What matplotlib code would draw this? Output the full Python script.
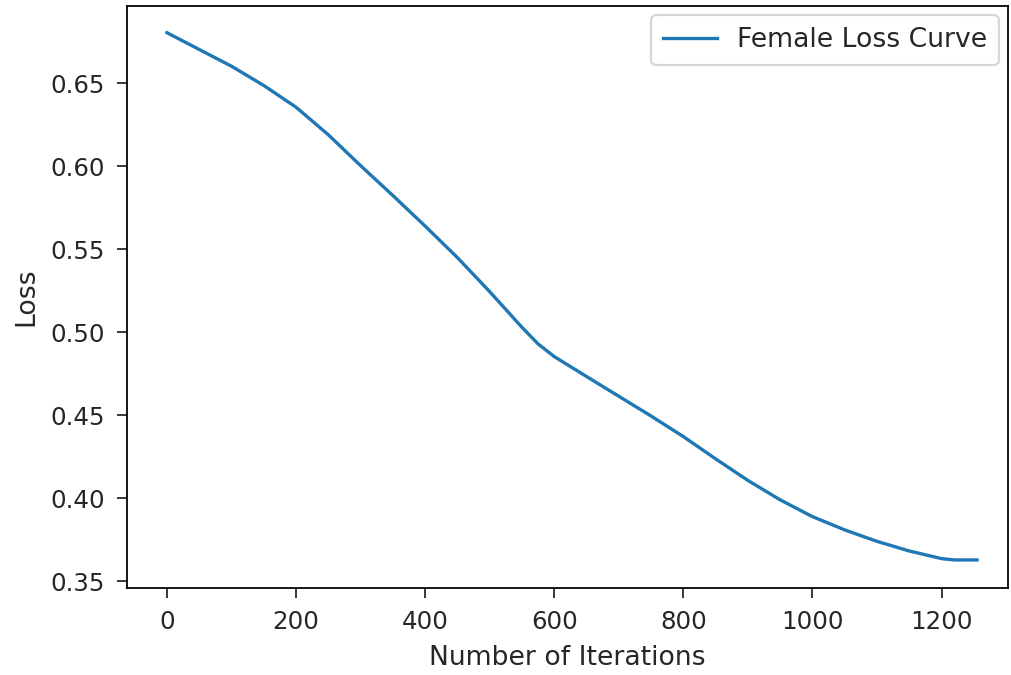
import numpy as np
import matplotlib
matplotlib.use("Agg")
import matplotlib.pyplot as plt

# loss values
iterations = [0, 50, 100, 150, 200, 250, 300, 350, 400, 450, 500, 550, 575, 600,
              650, 700, 750, 800, 850, 900, 950, 1000, 1050, 1100, 1150, 1200, 1220, 1255]
loss = [0.6803, 0.6702, 0.6601, 0.6485, 0.6354, 0.6188, 0.6002, 0.5822, 0.5638, 0.5448,
        0.5243, 0.5028, 0.4928, 0.4852, 0.4732, 0.4613, 0.4494, 0.4370, 0.4236, 0.4106,
        0.3989, 0.3888, 0.3808, 0.3739, 0.3681, 0.3635, 0.3627, 0.3627]

plt.rcParams["font.family"] = ["DejaVu Sans"]
plt.rcParams["font.size"] = 12
plt.rcParams["xtick.labelsize"] = 11
plt.rcParams["ytick.labelsize"] = 11
plt.rcParams["xtick.major.size"] = 4.5
plt.rcParams["ytick.major.size"] = 4.5
plt.rcParams["xtick.major.pad"] = 5.5
plt.rcParams["ytick.major.pad"] = 5.5
plt.rcParams["axes.labelpad"] = 5
plt.rcParams["text.color"] = "#262626"
plt.rcParams["axes.labelcolor"] = "#262626"
plt.rcParams["xtick.color"] = "#262626"
plt.rcParams["ytick.color"] = "#262626"

fig = plt.figure(figsize=(1011 / 160, 675 / 160), dpi=160)
ax = fig.add_axes([127 / 1011, 1 - 588 / 675, (1008 - 127) / 1011, (588 - 6) / 675])

ax.plot(iterations, loss, color="tab:blue", linewidth=1.5, label="Female Loss Curve")
ax.set_xlim(-62, 1303)
ax.set_ylim(0.3458, 0.6964)
ax.set_xlabel("Number of Iterations")
ax.set_ylabel("Loss")
ax.legend(loc="upper right", borderaxespad=0.35, borderpad=0.45, handletextpad=0.75)

fig.savefig("out.png", dpi=160)
